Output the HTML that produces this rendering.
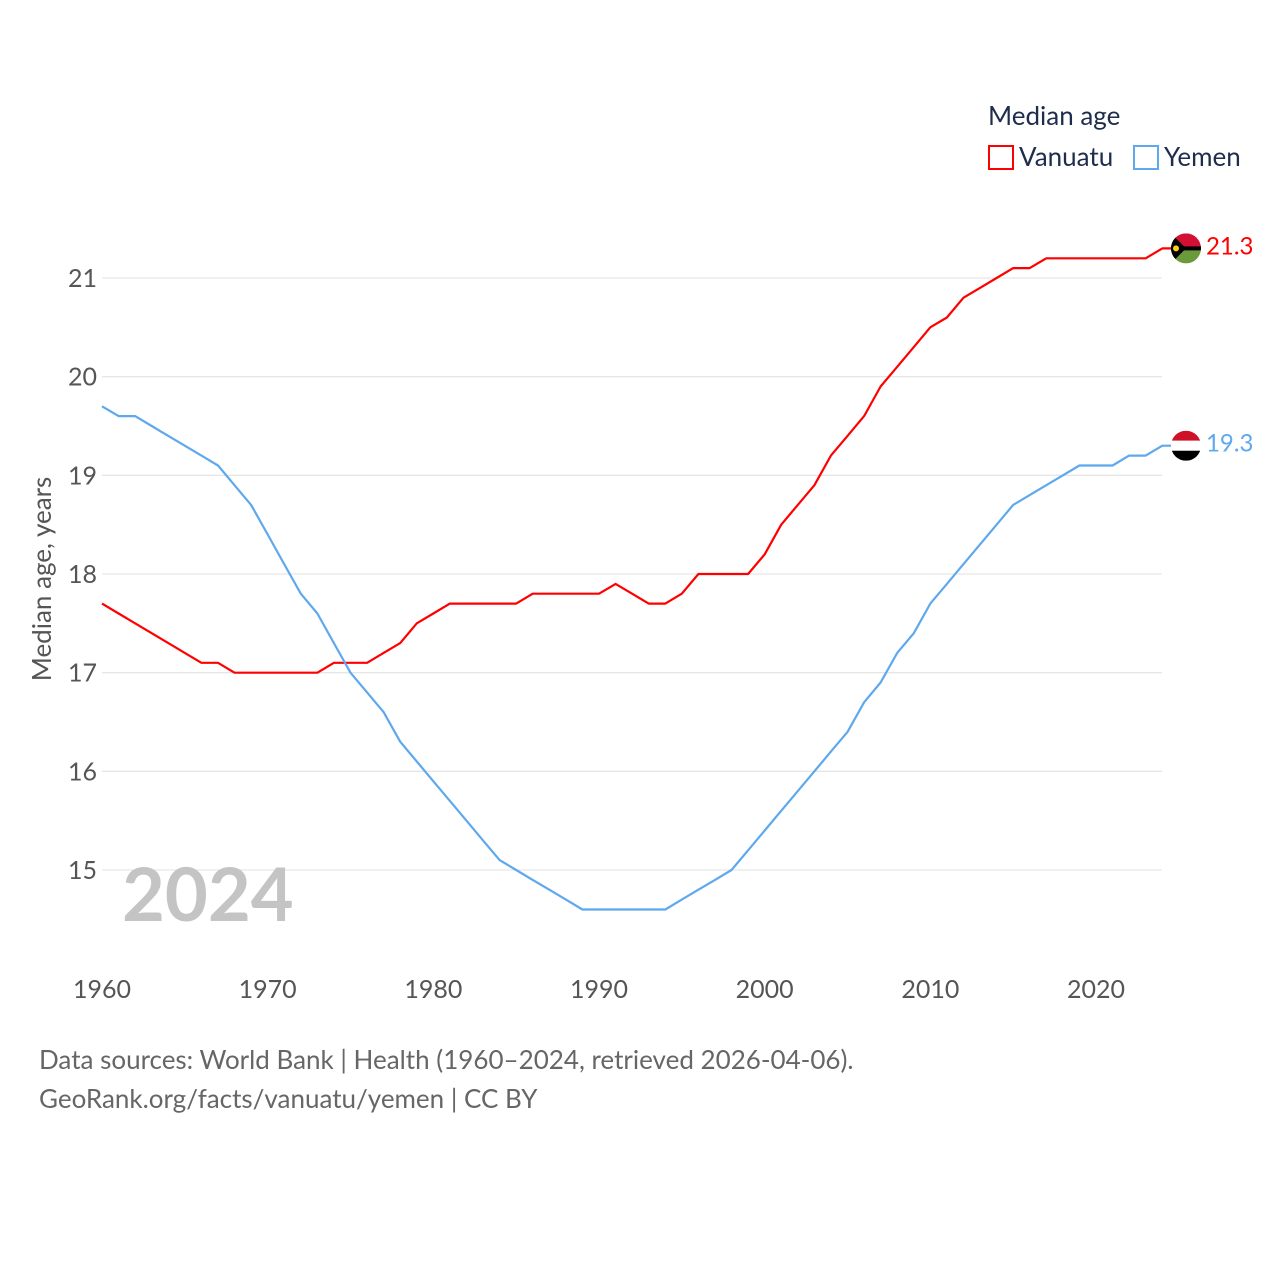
<!DOCTYPE html>
<html><head><meta charset="utf-8">
<style>
body{margin:0;background:#fff;font-family:"Liberation Sans",sans-serif;}
svg text{font-family:"Lato","Liberation Sans",sans-serif;}
</style></head>
<body>
<svg id="chart" width="1280" height="1280" viewBox="0 0 1280 1280" xmlns="http://www.w3.org/2000/svg">
<rect width="1280" height="1280" fill="#fff"/>
<g id="grid"></g>
<g id="yticks"></g>
<g id="xticks"></g>
<text transform="translate(51,579) rotate(-90)" text-anchor="middle" font-size="26" fill="#555">Median age, years</text>
<text x="122" y="921" font-size="74" font-weight="bold" fill="#c4c4c4">2024</text>
<g>
<text x="988" y="125" font-size="26" fill="#1f2d4d">Median age</text>
<g>
<rect x="989" y="146" width="24" height="23" fill="none" stroke="#ff0000" stroke-width="2"/>
<text x="1019" y="166" font-size="26" fill="#1f2d4d">Vanuatu</text></g>
<g>
<rect x="1134" y="146" width="24" height="23" fill="none" stroke="#5ea8ee" stroke-width="2"/>
<text x="1164" y="166" font-size="26" fill="#1f2d4d">Yemen</text></g>
</g>
<g id="series"></g>
<text x="39" y="1069" font-size="26" fill="#666">Data sources: World Bank | Health (1960–2024, retrieved 2026-04-06).</text>
<text x="39" y="1108" font-size="26" fill="#666">GeoRank.org/facts/vanuatu/yemen | CC BY</text>
</svg>
<script>
const years = [];
for (let y = 1960; y <= 2024; y++) years.push(y);
const vanuatu = [17.7,17.6,17.5,17.4,17.3,17.2,17.1,17.1,17.0,17.0,17.0,17.0,17.0,17.0,17.1,17.1,17.1,17.2,17.3,17.5,17.6,17.7,17.7,17.7,17.7,17.7,17.8,17.8,17.8,17.8,17.8,17.9,17.8,17.7,17.7,17.8,18.0,18.0,18.0,18.0,18.2,18.5,18.7,18.9,19.2,19.4,19.6,19.9,20.1,20.3,20.5,20.6,20.8,20.9,21.0,21.1,21.1,21.2,21.2,21.2,21.2,21.2,21.2,21.2,21.3];
const yemen = [19.7,19.6,19.6,19.5,19.4,19.3,19.2,19.1,18.9,18.7,18.4,18.1,17.8,17.6,17.3,17.0,16.8,16.6,16.3,16.1,15.9,15.7,15.5,15.3,15.1,15.0,14.9,14.8,14.7,14.6,14.6,14.6,14.6,14.6,14.6,14.7,14.8,14.9,15.0,15.2,15.4,15.6,15.8,16.0,16.2,16.4,16.7,16.9,17.2,17.4,17.7,17.9,18.1,18.3,18.5,18.7,18.8,18.9,19.0,19.1,19.1,19.1,19.2,19.2,19.3];
const yTicks = [15,16,17,18,19,20,21];
const xTicks = [1960,1970,1980,1990,2000,2010,2020];

const NS = "http://www.w3.org/2000/svg";
const xs = yr => 102 + (yr - 1960) * (1096 - 102) / 60;
const ys = v => 870 - (v - 15) * (870 - 278) / 6;
function mk(tag, attrs, parent){const e=document.createElementNS(NS,tag);for(const k in attrs)e.setAttribute(k,attrs[k]);parent.appendChild(e);return e;}

const grid=document.getElementById('grid'), yt=document.getElementById('yticks'), xt=document.getElementById('xticks');
yTicks.forEach(t=>{
  const l=mk('line',{x1:102,x2:1162,y1:ys(t),y2:ys(t),stroke:'#e6e6e6','stroke-width':1.3},grid);
  
  
  const tx=mk('text',{x:97,y:ys(t)+9,'text-anchor':'end','font-size':25,fill:'#555'},yt);
  tx.textContent=t;
  
  
});
xTicks.forEach(t=>{
  const tx=mk('text',{x:xs(t),y:998,'text-anchor':'middle','font-size':25,fill:'#555'},xt);
  tx.textContent=t;
  
  
});

const series=document.getElementById('series');
function draw(vals,color,name){
  const d=vals.map((v,i)=>(i?'L':'M')+xs(years[i]).toFixed(1)+' '+ys(v).toFixed(1)).join(' ')+' L 1172 '+ys(vals[vals.length-1]).toFixed(1);
  const p=mk('path',{d:d,fill:'none',stroke:color,'stroke-width':2.2,'stroke-linejoin':'round'},series);
  
  
  const last=vals[vals.length-1], cy=ys(last), cx=1186;
  const g=mk('g',{},series);
  
  
  const clipId='clip-'+name;
  const defs=mk('defs',{},g);const cp=mk('clipPath',{id:clipId},defs);mk('circle',{cx:cx,cy:cy,r:15},cp);
  const inner=mk('g',{'clip-path':'url(#'+clipId+')'},g);
  if(name==='vanuatu'){
    mk('rect',{x:cx-15,y:cy-15,width:30,height:15,fill:'#d21034'},inner);
    mk('rect',{x:cx-15,y:cy,width:30,height:15,fill:'#6a9a3a'},inner);
    mk('rect',{x:cx-15,y:cy-2,width:30,height:4,fill:'#000'},inner);
    mk('polygon',{points:(cx-15)+','+(cy-15)+' '+(cx)+','+cy+' '+(cx-15)+','+(cy+15),fill:'#000'},inner);
    mk('circle',{cx:cx-10,cy:cy,r:3,fill:'#fdce12'},inner);
  } else {
    mk('rect',{x:cx-15,y:cy-15,width:30,height:10,fill:'#ce1126'},inner);
    mk('rect',{x:cx-15,y:cy-5,width:30,height:10,fill:'#fff'},inner);
    mk('rect',{x:cx-15,y:cy+5,width:30,height:10,fill:'#000'},inner);
  }
  const lab=mk('text',{x:1206,y:cy+6,'font-size':24,fill:color},series);
  lab.textContent=last.toFixed(1);
  
  
}
draw(vanuatu,'#ff0000','vanuatu');
draw(yemen,'#5ea8ee','yemen');
</script>
</body></html>
